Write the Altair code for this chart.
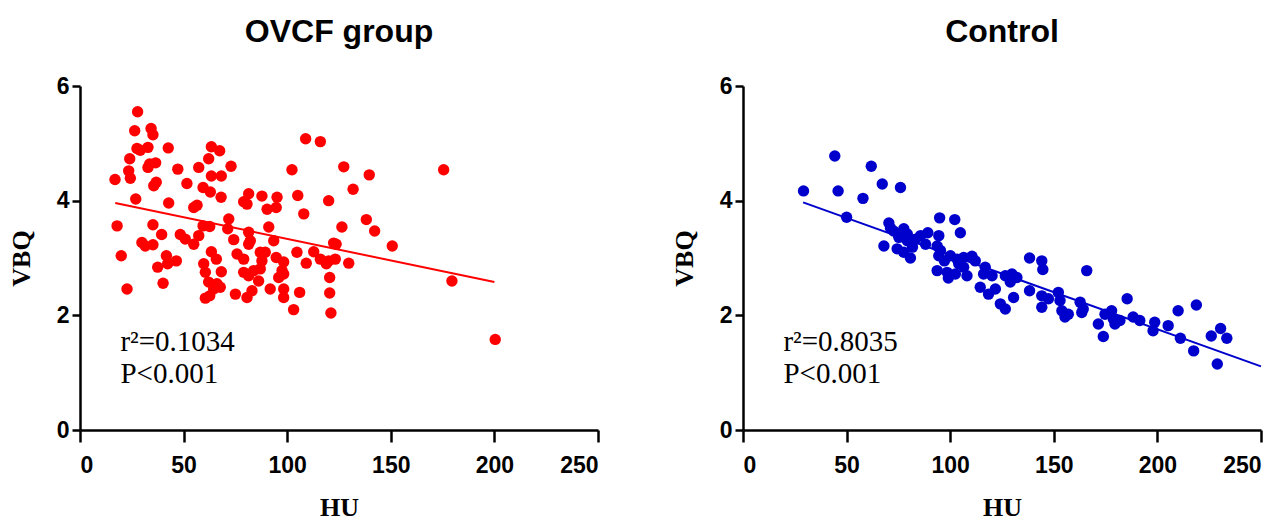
import altair as alt
import pandas as pd

# ---------------- data ----------------
ovcf_hu = [27.8, 26.4, 34.3, 35.2, 27.5, 32.8, 29.1, 42.6, 24.0, 32.8, 36.5, 33.6, 23.5, 24.3, 16.9,
           47.2, 57.3, 63.4, 67.4, 62.1, 72.9, 63.4, 68.2, 51.6, 35.6, 36.8, 59.4, 62.9, 68.1, 26.9,
           42.8, 54.9, 56.5, 79.0, 81.4, 80.6, 87.8, 95.1, 94.7, 90.3, 102.3, 108.9, 116.0, 105.1, 108.0,
           120.0, 17.9, 35.2, 39.4, 29.9, 35.2, 31.5, 48.4, 50.8, 54.9, 57.3, 59.4, 62.6, 71.8, 71.3,
           74.2, 81.4, 82.2, 81.4, 91.1, 93.5, 104.7, 112.8, 122.4, 19.9, 41.7, 42.3, 46.5, 37.5, 63.4,
           65.8, 75.8, 79.0, 87.0, 89.4, 87.8, 94.7, 98.3, 97.5, 109.2, 116.0, 120.0, 123.2, 59.7, 60.5,
           68.2, 79.0, 81.4, 86.2, 83.8, 87.0, 95.9, 98.3, 40.1, 22.7, 62.1, 66.1, 64.5, 67.7, 75.0,
           80.6, 83.0, 91.8, 98.3, 98.3, 106.0, 60.5, 62.6, 103.1, 120.5, 120.5, 121.1, 127.3, 139.6,
           131.8, 138.2, 126.4, 142.2, 175.5, 150.7, 123.6, 118.9, 129.7, 179.5, 200.4]
ovcf_vbq = [5.55, 5.22, 5.26, 5.15, 4.91, 4.93, 4.88, 4.92, 4.73, 4.58, 4.66, 4.64, 4.52, 4.39, 4.37,
            4.55, 4.58, 4.94, 4.87, 4.73, 4.60, 4.43, 4.43, 4.30, 4.26, 4.32, 4.23, 4.15, 4.06, 4.03,
            3.96, 3.88, 3.92, 3.98, 4.12, 3.94, 4.08, 4.06, 3.88, 3.85, 4.54, 5.08, 5.03, 4.09, 3.77,
            4.00, 3.56, 3.58, 3.41, 3.27, 3.23, 3.21, 3.41, 3.33, 3.24, 3.39, 3.56, 3.55, 3.68, 3.51,
            3.32, 3.45, 3.30, 3.24, 3.54, 3.30, 3.10, 3.11, 3.26, 3.04, 3.04, 2.90, 2.95, 2.84, 3.11,
            2.98, 3.07, 2.98, 3.10, 3.10, 2.95, 3.01, 2.93, 2.78, 2.91, 2.98, 2.95, 2.98, 2.90, 2.75,
            2.76, 2.75, 2.69, 2.60, 2.78, 2.81, 2.66, 2.72, 2.56, 2.46, 2.58, 2.55, 2.46, 2.49, 2.37,
            2.31, 2.43, 2.46, 2.46, 2.31, 2.40, 2.30, 2.34, 2.10, 2.66, 2.39, 2.04, 4.59, 4.45,
            4.20, 3.67, 3.54, 3.47, 4.54, 3.21, 3.24, 2.90, 2.91, 2.60, 1.58]

ctrl_hu = [44.3, 61.9, 29.2, 45.9, 67.2, 76.0, 57.9, 50.0, 94.9, 102.2, 104.9, 70.4, 71.2, 77.6, 79.3,
           75.2, 79.3, 83.3, 85.7, 89.2, 94.5, 68.0, 74.4, 77.6, 80.8, 93.7, 95.3, 94.5, 100.1, 103.3,
           106.5, 110.5, 93.7, 98.5, 102.5, 108.1, 104.1, 106.5, 116.9, 116.1, 120.2, 114.5, 118.5, 121.8,
           124.2, 126.6, 126.6, 129.8, 132.2, 129.0, 130.6, 138.3, 144.2, 144.7, 165.9, 138.3, 144.2,
           144.2, 147.4, 152.2, 153.0, 153.9, 155.4, 157.0, 162.7, 164.2, 163.5, 171.5, 173.9, 174.7,
           177.9, 178.7, 181.9, 179.5, 185.4, 188.3, 191.5, 198.7, 197.9, 205.2, 210.0, 218.8, 211.1,
           217.5, 226.0, 230.5, 233.5, 228.9, 72.7, 81.8, 97.2, 112.1, 99.1, 88.1]
ctrl_vbq = [4.78, 4.60, 4.17, 4.17, 4.29, 4.23, 4.04, 3.71, 3.70, 3.67, 3.44, 3.61, 3.52, 3.51, 3.42,
            3.36, 3.30, 3.33, 3.39, 3.44, 3.39, 3.21, 3.16, 3.10, 3.00, 3.21, 3.13, 3.04, 3.04, 2.98,
            3.01, 3.03, 2.78, 2.75, 2.72, 2.69, 2.90, 2.84, 2.84, 2.72, 2.69, 2.49, 2.37, 2.46,
            2.20, 2.11, 2.69, 2.72, 2.66, 2.58, 2.31, 3.00, 2.95, 2.80, 2.78, 2.43, 2.34,
            2.14, 2.29, 2.40, 2.26, 2.08, 1.97, 2.02, 2.23, 2.11, 2.05, 1.85, 1.63, 2.02,
            2.08, 1.94, 1.91, 1.85, 2.29, 1.97, 1.91, 1.88, 1.73, 1.82, 2.08, 2.18, 1.60,
            1.38, 1.64, 1.77, 1.60, 1.15, 3.47, 3.19, 2.95, 2.95, 2.65, 3.24]

# fitted lines (end points)
ovcf_fit_hu = [17.0, 200.0]
ovcf_fit_vbq = [3.96, 2.58]
ctrl_fit_hu = [29.0, 250.0]
ctrl_fit_vbq = [3.97, 1.11]

titles = ["OVCF group", "Control"]
r2_labels = ["r\u00b2=0.1034", "r\u00b2=0.8035"]
p_labels = ["P<0.001", "P<0.001"]
x_ticks = [0, 50, 100, 150, 200, 250]
y_ticks = [0, 2, 4, 6]

W, H = 518, 344
SANS = "Liberation Sans"
SERIF = "Liberation Serif"


def panel(hu, vbq, fit_hu, fit_vbq, color, title, r2, p):
    pts = pd.DataFrame({"HU": hu, "VBQ": vbq})
    fit = pd.DataFrame({"HU": fit_hu, "VBQ": fit_vbq})
    ann = pd.DataFrame({"HU": [19.5, 19.5], "VBQ": [1.53, 0.97], "t": [r2, p]})

    xs = alt.Scale(domain=[0, 250], nice=False, zero=False)
    ys = alt.Scale(domain=[0, 6], nice=False)
    xax = alt.Axis(values=x_ticks, title="HU", grid=False, format="d")
    yax = alt.Axis(values=y_ticks, title="VBQ", grid=False, format="d")

    points = alt.Chart(pts).mark_circle(size=130, opacity=1, color=color).encode(
        x=alt.X("HU:Q", scale=xs, axis=xax),
        y=alt.Y("VBQ:Q", scale=ys, axis=yax),
    )
    line = alt.Chart(fit).mark_line(color=color, strokeWidth=2).encode(
        x=alt.X("HU:Q", scale=xs), y=alt.Y("VBQ:Q", scale=ys)
    )
    text = alt.Chart(ann).mark_text(
        align="left", baseline="middle", font=SERIF, fontSize=29, color="black"
    ).encode(x=alt.X("HU:Q", scale=xs), y=alt.Y("VBQ:Q", scale=ys), text="t:N")

    return alt.layer(points, line, text).properties(
        width=W, height=H,
        title=alt.TitleParams(title, font=SANS, fontSize=32, fontWeight="bold",
                              color="black", anchor="middle", offset=26),
    )


left = panel(ovcf_hu, ovcf_vbq, ovcf_fit_hu, ovcf_fit_vbq, "#FF0000",
             titles[0], r2_labels[0], p_labels[0])
right = panel(ctrl_hu, ctrl_vbq, ctrl_fit_hu, ctrl_fit_vbq, "#0000CC",
              titles[1], r2_labels[1], p_labels[1])

chart = alt.hconcat(left, right, spacing=71).properties(
    padding={"left": 0, "top": 8, "right": 0, "bottom": 0}
).configure_view(stroke=None).configure_axis(
    domainColor="black", domainWidth=2.5, tickColor="black", tickWidth=2.5,
    labelFont=SANS, labelFontSize=23, labelFontWeight="bold",
    labelColor="black", titleFont=SERIF, titleFontSize=26, titleFontWeight="bold",
    titleColor="black",
).configure_axisX(titlePadding=17, labelPadding=12, tickSize=12).configure_axisY(
    titlePadding=22, labelPadding=3, tickSize=8)

chart.save("out.html", embed_options={"renderer": "svg", "actions": False})
